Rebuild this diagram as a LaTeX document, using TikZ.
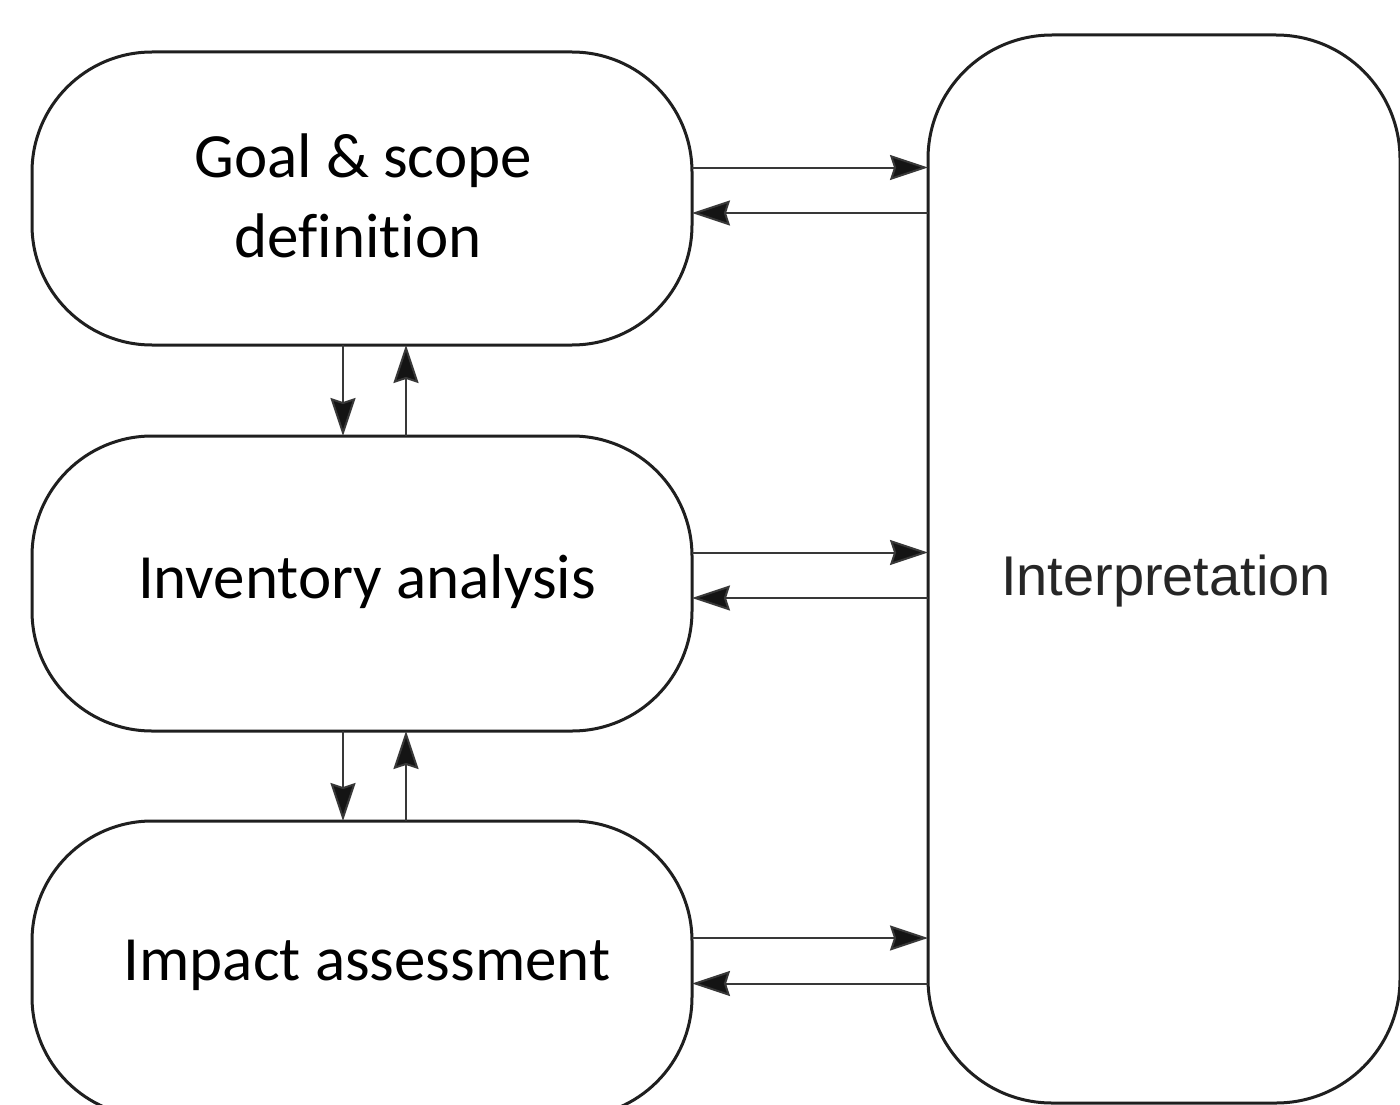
\documentclass[tikz,border=0pt]{standalone}
\usepackage{fontspec}
\setmainfont{Carlito}[Ligatures={NoCommon}]
\newfontfamily\arialfont{Liberation Sans}
\usetikzlibrary{arrows.meta}
\begin{document}
\begin{tikzpicture}[x=1pt,y=-1pt,
  phase/.style={draw=black!88, line width=3pt, rounded corners=120pt,
    minimum width=660pt, inner sep=0pt, outer sep=0pt},
  conn/.style={draw=black!78, line width=2pt,
    -{Stealth[length=38pt,width=25pt,inset=4pt,fill=black!92]}},
  lbl/.style={font=\fontsize{63}{79}\selectfont, text=black, anchor=base, inner sep=0pt, align=center},
  ilbl/.style={font=\arialfont\fontsize{56}{66}\selectfont, text=black!85, anchor=base, inner sep=0pt}]
\useasboundingbox (0,0) rectangle (1400,1105);
\clip (0,0) rectangle (1400,1105);
\fill[white] (0,0) rectangle (1400,1105);
% boxes
\node[phase, minimum height=293pt] (g) at (362,198.5) {};
\node[phase, minimum height=295pt] (inv) at (362,583.5) {};
\node[phase, minimum height=296pt] (imp) at (362,969) {};
\node[phase, minimum width=472pt, minimum height=1068pt, rounded corners=124pt] (int) at (1164,569) {};
% texts
\node[lbl] (tg1) at (363,178) {Goal \& scope};
\node[lbl] (tg2) at (358,257) {def\kern0pt inition};
\node[lbl] (ti) at (367,598) {Inventory analysis};
\node[lbl] (tm) at (367,980) {Impact assessment};
\node[ilbl] (tint) at (1166,595) {Interpretation};
% horizontal connectors
\foreach \b in {g,inv,imp}{
  \draw[conn] ([yshift=31pt]\b.east) -- ([yshift=31pt]\b.east -| int.west);
  \draw[conn] ([yshift=-14.5pt]\b.east -| int.west) -- ([yshift=-14.5pt]\b.east);
}
% vertical connectors
\draw[conn] ([xshift=-19pt]g.south) -- ([xshift=-19pt]inv.north);
\draw[conn] ([xshift=44pt]inv.north) -- ([xshift=44pt]g.south);
\draw[conn] ([xshift=-19pt]inv.south) -- ([xshift=-19pt]imp.north);
\draw[conn] ([xshift=44pt]imp.north) -- ([xshift=44pt]inv.south);
\end{tikzpicture}
\end{document}
